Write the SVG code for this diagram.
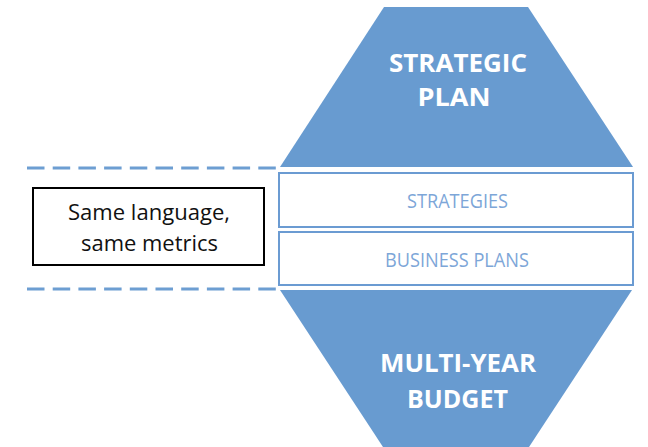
<svg xmlns="http://www.w3.org/2000/svg" width="648" height="447" viewBox="0 0 648 447">
<style>
.shape{fill:#689bd0;}
.title{font-family:"Open Sans","Liberation Sans",sans-serif;font-weight:bold;font-size:25px;fill:#ffffff;}
.band{fill:#ffffff;stroke:#6b9bd2;stroke-width:2;}
.bandtxt{font-family:"Open Sans","Liberation Sans",sans-serif;font-size:19.5px;fill:#7da6d8;}
.dash{stroke:#6d9ed2;stroke-width:3;stroke-dasharray:17.5 8.2;fill:none;}
.note{fill:#ffffff;stroke:#000000;stroke-width:2;}
.notetxt{font-family:"Open Sans","Liberation Sans",sans-serif;font-size:22px;fill:#111111;}
</style>
<rect width="648" height="447" fill="#ffffff"/>
<g id="connectors">
<line class="dash" x1="27" y1="168" x2="280" y2="168"/>
<line class="dash" x1="27" y1="289" x2="280" y2="289"/>
</g>
<g id="strategic-plan">
<polygon class="shape" points="384,7 528,7 633,167 280,167"/>
<text class="title" x="458" y="72" text-anchor="middle" textLength="138" lengthAdjust="spacingAndGlyphs">STRATEGIC</text>
<text class="title" x="454" y="106" text-anchor="middle" textLength="73" lengthAdjust="spacingAndGlyphs">PLAN</text>
</g>
<g id="multi-year-budget">
<polygon class="shape" points="280,290 632,290 529,447 383,447"/>
<text class="title" x="458" y="372" text-anchor="middle" textLength="156" lengthAdjust="spacingAndGlyphs">MULTI-YEAR</text>
<text class="title" x="457.5" y="408" text-anchor="middle" textLength="101" lengthAdjust="spacingAndGlyphs">BUDGET</text>
</g>
<g id="strategies">
<rect class="band" x="279" y="173" width="354" height="54"/>
<text class="bandtxt" x="457.5" y="208" text-anchor="middle" textLength="101" lengthAdjust="spacingAndGlyphs">STRATEGIES</text>
</g>
<g id="business-plans">
<rect class="band" x="279" y="232" width="354" height="53"/>
<text class="bandtxt" x="457" y="267" text-anchor="middle" textLength="144" lengthAdjust="spacingAndGlyphs">BUSINESS PLANS</text>
</g>
<g id="same-language">
<rect class="note" x="33" y="188" width="231" height="77"/>
<text class="notetxt" x="149" y="220" text-anchor="middle" textLength="162" lengthAdjust="spacingAndGlyphs">Same language,</text>
<text class="notetxt" x="149.5" y="251" text-anchor="middle" textLength="137" lengthAdjust="spacingAndGlyphs">same metrics</text>
</g>
</svg>
